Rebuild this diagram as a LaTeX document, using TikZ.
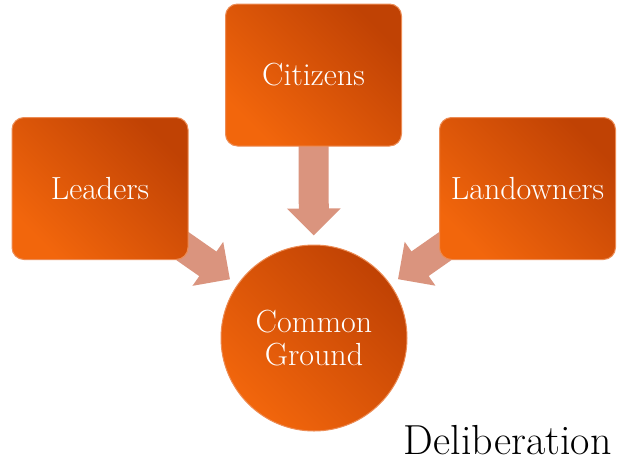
\documentclass[tikz,border=0pt]{standalone}
\usepackage{amssymb, amsmath}
\usetikzlibrary{arrows.meta, backgrounds}

\definecolor{boxlight}{RGB}{242,102,12}
\definecolor{boxdark}{RGB}{192,66,4}
\definecolor{boxedge}{RGB}{236,140,85}
\definecolor{arrowfill}{RGB}{218,148,126}

\tikzset{
    party/.style={draw=boxedge, line width=1pt, rounded corners=12pt,
        left color=boxlight, right color=boxdark, shading angle=135,
        minimum width=176pt, minimum height=142pt, inner sep=0pt,
        text=white, font=\fontsize{32}{33}\selectfont},
    ground/.style={party, circle, rounded corners=0pt, minimum size=186pt, align=center},
    feed/.style={draw=arrowfill, line width=30pt,
        -{Triangle[width=52pt, length=27pt]}, shorten >=9pt}
}

\begin{document}
\begin{tikzpicture}[x=1pt, y=-1pt]
        \useasboundingbox (0, 0) rectangle (619, 464);

        % Boxes and circle:
        \node[party] (leaders) at (100, 188.5) {Leaders};
        \node[party] (citizens) at (313.5, 75) {Citizens};
        \node[party] (landowners) at (527.5, 188.5) {Landowners};
        \node[ground] (cg) at (314, 338) {Common\\Ground};
        \node[anchor=base east, font=\fontsize{42}{46}\selectfont] (delib) at (615, 454) {Deliberation};

        % Arrows, behind the boxes:
        \begin{scope}[on background layer]
            \draw[feed] (citizens.center) -- (cg);
            \draw[feed] (leaders.center) -- (cg);
            \draw[feed] (landowners.center) -- (cg);
        \end{scope}
    \end{tikzpicture}
\end{document}
